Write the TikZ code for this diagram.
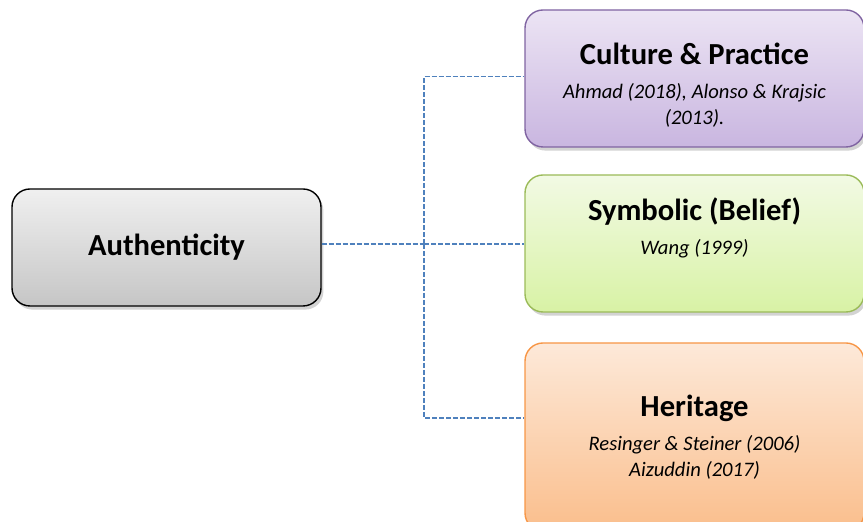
\documentclass[tikz,border=0pt]{standalone}
\usepackage{fontspec}
\setmainfont{Carlito}
\usetikzlibrary{positioning, shadows}
\definecolor{linkblue}{HTML}{4F81BD}
\newcommand{\boxtitle}[1]{{\fontsize{15.3}{18}\selectfont\upshape\bfseries #1}}
\begin{document}
\begin{tikzpicture} [x=0.5pt, y=-0.5pt,
  card/.style={rectangle, rounded corners=9pt, line width=0.7pt, align=center,
    font=\fontsize{10.3}{13}\selectfont\itshape, minimum width=169.5pt, minimum height=68.5pt,
    drop shadow={shadow xshift=1.2pt, shadow yshift=-1.8pt, opacity=0.35}},
  link/.style={draw=linkblue, dash pattern=on 2.5pt off 1pt, line width=0.9pt}]
\clip (0,0) rectangle (863,522);
\node[card, draw=black, top color=gray!12, bottom color=gray!45, minimum width=154.5pt, minimum height=58.5pt] (auth) at (166.5,247.5) {\boxtitle{Authenticity}};
\node[card, draw={rgb,255:red,128;green,100;blue,162}, top color={rgb,255:red,236;green,228;blue,244}, bottom color={rgb,255:red,201;green,182;blue,224}] (culture) at (694.5,78.5) {\rule{0pt}{17pt}\boxtitle{Culture \& Practice}\\[4pt] Ahmad (2018), Alonso \& Krajsic\\ (2013).};
\node[card, draw={rgb,255:red,155;green,187;blue,89}, top color={rgb,255:red,242;green,250;blue,228}, bottom color={rgb,255:red,216;green,242;blue,165}] (symbolic) at (694.5,243.5) {\boxtitle{Symbolic (Belief)}\\[4pt] Wang (1999)\\ \strut};
\node[card, draw={rgb,255:red,247;green,150;blue,70}, top color={rgb,255:red,253;green,233;blue,217}, bottom color={rgb,255:red,250;green,190;blue,140}, minimum height=94pt] (heritage) at (694.5,437) {\boxtitle{Heritage}\\[4pt] Resinger \& Steiner (2006)\\ Aizuddin (2017)};
\coordinate (split) at (424,244);
\draw[link] (split -| auth.east) -- (split);
\draw[link] (split) |- ([yshift=1pt]culture.west);
\draw[link] (split) -- (split -| symbolic.west);
\draw[link] (split) |- ([yshift=9.5pt]heritage.west);
\end{tikzpicture}
\end{document}
